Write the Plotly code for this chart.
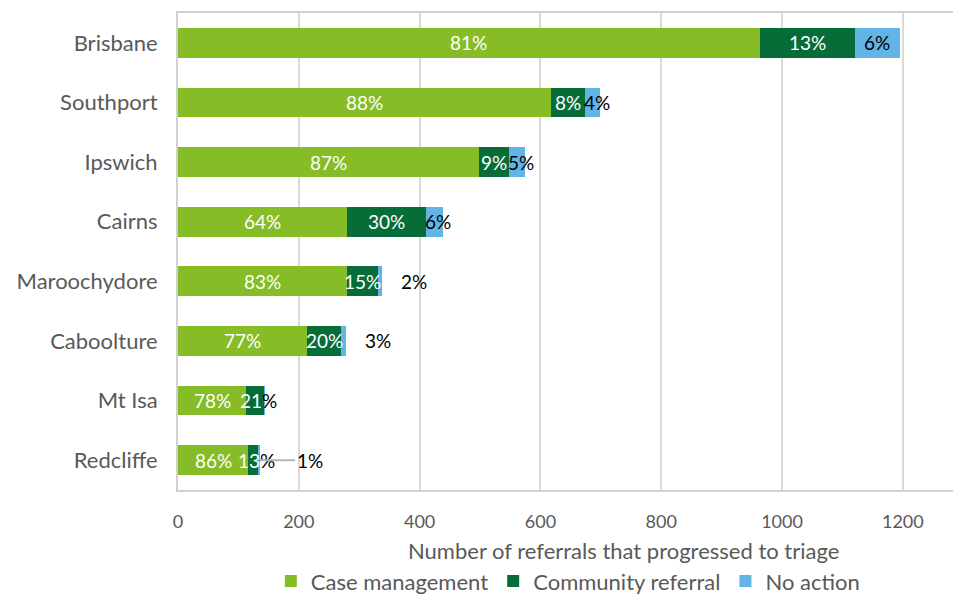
import plotly.graph_objects as go

# Referrals that progressed to triage, by site and outcome
sites = ["Brisbane", "Southport", "Ipswich", "Cairns", "Maroochydore",
         "Caboolture", "Mt Isa", "Redcliffe"]
case_management = [963, 618, 498, 280, 280, 214, 113, 116]
community_referral = [157, 55, 50, 131, 51, 56, 30, 17]
no_action = [76, 26, 27, 28, 7, 8, 1, 2]
x_ticks = [0, 200, 400, 600, 800, 1000, 1200]

series = [
    ("Case management", case_management, "#86BC25"),
    ("Community referral", community_referral, "#066D38"),
    ("No action", no_action, "#62B4E4"),
]

FONT = "Lato, 'Open Sans', sans-serif"
GREY_TEXT = "#595959"
LABEL_SIZE = 19

fig = go.Figure()
for name, vals, colour in series:
    fig.add_trace(go.Bar(
        name=name, y=sites, x=vals, orientation="h",
        marker=dict(color=colour, line=dict(width=0)),
        hoverinfo="x+y+name",
    ))

totals = [a + b + c for a, b, c in zip(case_management, community_referral, no_action)]


def pct(v, t):
    return f"{int(v / t * 100 + 0.5)}%"


# how each "No action" label is placed
na_place = ["center", "left", "left", "left", "out", "out", "none", "leader"]

annotations = []
for i, site in enumerate(sites):
    t = totals[i]
    c, r, n = case_management[i], community_referral[i], no_action[i]
    # Case management: white, centred in segment
    annotations.append(dict(x=c / 2, y=site, text=pct(c, t), showarrow=False,
                            font=dict(color="white", size=LABEL_SIZE, family=FONT)))
    # Community referral: white, centred; where it spills past the bar the
    # percent sign shows dark
    label = pct(r, t)
    spill = site in ("Mt Isa", "Redcliffe")
    if spill:
        label = f"<span style='color:white'>{label[:-1]}</span>%"
    annotations.append(dict(x=c + r / 2, y=site, text=label, showarrow=False,
                            xshift=3 if spill else 0,
                            font=dict(color="#000000" if spill else "white",
                                      size=LABEL_SIZE, family=FONT)))
    # No action
    mode = na_place[i]
    na_text = pct(n, t)
    na_font = dict(color="#000000", size=LABEL_SIZE, family=FONT)
    if mode == "center":
        annotations.append(dict(x=c + r + n / 2, y=site, text=na_text,
                                showarrow=False, font=na_font))
    elif mode == "left":
        annotations.append(dict(x=c + r, y=site, text=na_text, xanchor="left",
                                showarrow=False, font=na_font, xshift=-3))
    elif mode == "out":
        annotations.append(dict(x=t, y=site, text=na_text, showarrow=False,
                                font=na_font, xshift=32))
    elif mode == "leader":
        annotations.append(dict(x=t, y=site, text=na_text, showarrow=True,
                                arrowhead=0, arrowwidth=2, arrowcolor="#B4B4B4",
                                ax=50, ay=0, standoff=0, font=na_font))

# Axis title (the plot area runs past the right edge, so place it explicitly)
annotations.append(dict(xref="paper", yref="paper", x=0.575, y=-0.126,
                        xanchor="center", yanchor="middle",
                        text="Number of referrals that progressed to triage",
                        showarrow=False,
                        font=dict(color=GREY_TEXT, size=22, family=FONT)))

fig.update_layout(
    barmode="stack",
    bargap=0.5,
    width=953, height=595,
    margin=dict(l=178, r=0, t=13, b=105, autoexpand=False),
    paper_bgcolor="white", plot_bgcolor="white",
    font=dict(family=FONT, color=GREY_TEXT),
    xaxis=dict(range=[0, 1283], tickvals=x_ticks, ticktext=[str(v) for v in x_ticks],
               showgrid=True, gridcolor="#D9D9D9", gridwidth=2,
               zeroline=False, showline=True, linecolor="#D0D0D0", linewidth=2,
               mirror=True, ticks="", ticklabelstandoff=14,
               tickfont=dict(size=18, color=GREY_TEXT, family=FONT)),
    yaxis=dict(categoryorder="array", categoryarray=sites, autorange="reversed",
               showgrid=False, zeroline=False, showline=True, linecolor="#D0D0D0",
               linewidth=2, mirror=False, ticks="", ticklabelstandoff=14,
               tickfont=dict(size=22, color=GREY_TEXT, family=FONT)),
    legend=dict(orientation="h", x=0.503, xanchor="center", y=-0.147, yanchor="top",
                font=dict(size=22, color=GREY_TEXT, family=FONT),
                itemwidth=30, tracegroupgap=0, traceorder="normal"),
    annotations=annotations,
    showlegend=True,
)

fig.write_html("out.html")
